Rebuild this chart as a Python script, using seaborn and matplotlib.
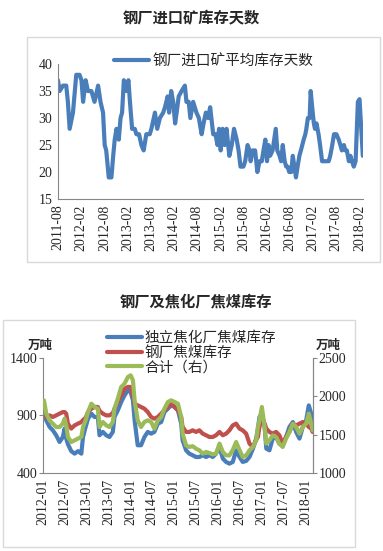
import pandas as pd
import seaborn as sns
import matplotlib.pyplot as plt
import matplotlib.dates as mdates
from matplotlib.patches import Rectangle

# 钢厂进口矿平均库存天数
ore_dates = [
    "2011-08-01", "2011-08-14", "2011-09-09", "2011-10-05", "2011-10-18", "2011-11-01",
    "2011-11-27", "2011-12-23", "2012-01-18", "2012-02-02", "2012-02-15", "2012-03-06",
    "2012-03-24", "2012-04-20", "2012-05-15", "2012-06-12", "2012-07-01", "2012-07-21",
    "2012-08-03", "2012-08-15", "2012-09-04", "2012-09-25", "2012-10-09", "2012-10-21",
    "2012-11-04", "2012-11-22", "2012-12-06", "2012-12-18", "2013-01-01", "2013-01-19",
    "2013-02-06", "2013-02-18", "2013-03-07", "2013-03-28", "2013-04-10", "2013-05-01",
    "2013-05-19", "2013-06-06", "2013-06-27", "2013-07-24", "2013-08-06", "2013-09-03",
    "2013-09-21", "2013-10-12", "2013-11-07", "2013-11-21", "2013-12-12", "2013-12-24",
    "2014-01-09", "2014-01-25", "2014-02-09", "2014-02-21", "2014-03-09", "2014-04-01",
    "2014-04-27", "2014-05-09", "2014-05-27", "2014-06-09", "2014-07-01", "2014-07-27",
    "2014-08-15", "2014-09-06", "2014-09-21", "2014-10-09", "2014-10-27", "2014-11-12",
    "2014-12-06", "2014-12-24", "2015-01-09", "2015-01-21", "2015-02-03", "2015-02-18",
    "2015-03-06", "2015-03-21", "2015-04-12", "2015-05-01", "2015-05-19", "2015-06-09",
    "2015-06-24", "2015-07-09", "2015-08-01", "2015-08-15", "2015-09-03", "2015-09-18",
    "2015-09-27", "2015-10-12", "2015-11-01", "2015-11-19", "2015-12-06", "2015-12-24",
    "2016-01-06", "2016-01-21", "2016-02-03", "2016-02-15", "2016-02-27", "2016-03-18",
    "2016-04-12", "2016-04-24", "2016-05-12", "2016-05-24", "2016-06-06", "2016-06-21",
    "2016-07-03", "2016-07-15", "2016-07-27", "2016-08-12", "2016-08-24", "2016-09-06",
    "2016-09-18", "2016-10-01", "2016-10-15", "2016-10-27", "2016-11-18", "2016-12-01",
    "2016-12-09", "2016-12-21", "2017-01-04", "2017-01-12", "2017-01-24", "2017-02-06",
    "2017-02-15", "2017-02-27", "2017-03-15", "2017-03-27", "2017-04-12", "2017-05-06",
    "2017-06-03", "2017-06-15", "2017-07-01", "2017-07-15", "2017-08-03", "2017-08-21",
    "2017-09-03", "2017-09-15", "2017-10-01", "2017-10-12", "2017-10-24", "2017-11-09",
    "2017-11-21", "2017-12-03", "2017-12-18", "2018-01-01", "2018-01-19", "2018-02-01",
    "2018-02-15", "2018-02-27",
]
ore_days = [
    37, 35, 36, 36, 33, 28, 31, 38, 38, 37, 33, 37,
    35, 35, 33, 36, 33, 31, 25, 24, 19, 19, 23, 26,
    28, 26, 30, 31, 37, 35, 37, 33, 28, 28, 27, 27,
    25, 24, 27, 27, 28, 31, 28, 30, 31, 32, 34, 31,
    35, 33, 29, 31, 34, 35, 36, 33, 33, 30, 33, 31,
    30, 27, 29, 31, 30, 32, 27, 27, 25, 28, 24, 28,
    25, 28, 23, 25, 28, 26, 24, 21, 21, 22, 25, 24,
    22, 24, 24, 20, 22, 22, 24, 26, 22, 25, 23, 24,
    28, 24, 23, 22, 25, 22, 21, 21, 20, 20, 23, 21,
    19, 21, 23, 24, 26, 27, 28, 30, 30, 35, 32, 29,
    28, 29, 27, 25, 22, 22, 22, 23, 25, 27, 27, 26,
    25, 24, 25, 24, 24, 22, 23, 22, 21, 22, 33, 33.5,
    28, 23,
]

# 焦煤库存 (万吨)
coal_dates = [
    "2012-01-09", "2012-01-28", "2012-02-25", "2012-03-23", "2012-04-20", "2012-05-18",
    "2012-06-15", "2012-06-29", "2012-07-13", "2012-07-27", "2012-08-24", "2012-09-21",
    "2012-10-19", "2012-11-16", "2012-11-30", "2012-12-22", "2013-01-11", "2013-02-08",
    "2013-03-06", "2013-04-03", "2013-04-17", "2013-05-15", "2013-06-12", "2013-07-09",
    "2013-08-06", "2013-08-20", "2013-09-17", "2013-10-15", "2013-11-12", "2013-12-10",
    "2014-01-02", "2014-01-21", "2014-02-04", "2014-03-02", "2014-03-30", "2014-04-27",
    "2014-05-25", "2014-06-22", "2014-07-19", "2014-08-17", "2014-09-14", "2014-10-11",
    "2014-11-09", "2014-12-06", "2015-01-04", "2015-02-01", "2015-02-28", "2015-03-12",
    "2015-04-10", "2015-05-07", "2015-06-04", "2015-07-02", "2015-07-30", "2015-08-27",
    "2015-09-24", "2015-10-22", "2015-11-19", "2015-12-16", "2016-01-14", "2016-02-11",
    "2016-03-09", "2016-04-06", "2016-05-04", "2016-06-01", "2016-06-29", "2016-07-26",
    "2016-08-24", "2016-09-21", "2016-10-19", "2016-11-16", "2016-11-30", "2016-12-13",
    "2017-01-02", "2017-01-25", "2017-02-08", "2017-03-06", "2017-04-03", "2017-05-01",
    "2017-05-28", "2017-06-25", "2017-07-23", "2017-08-20", "2017-09-18", "2017-10-15",
    "2017-11-12", "2017-12-10", "2018-01-07", "2018-01-29", "2018-02-18", "2018-03-02",
]
coking_plant = [
    916, 858, 800, 771, 728, 670, 713, 786, 699, 650, 590, 568,
    590, 568, 713, 800, 872, 916, 887, 887, 728, 757, 728, 713,
    757, 887, 945, 1017, 1075, 1119, 1104, 1032, 858, 641, 641, 713,
    757, 742, 757, 829, 843, 930, 959, 988, 974, 945, 829, 684,
    597, 568, 554, 539, 539, 554, 539, 554, 539, 568, 626, 525,
    496, 481, 496, 597, 540, 496, 505, 540, 610, 700, 786, 887,
    916, 800, 612, 597, 699, 713, 655, 641, 713, 800, 843, 757,
    699, 800, 858, 988, 916, 786,
]
steel_mill = [
    901, 887, 901, 887, 901, 916, 930, 930, 916, 829, 786, 814,
    829, 843, 860, 880, 930, 959, 974, 974, 940, 916, 901, 901,
    920, 959, 1017, 1075, 1133, 1148, 1148, 1075, 1003, 988, 974, 959,
    930, 887, 872, 887, 916, 945, 974, 1003, 974, 945, 887, 800,
    757, 757, 771, 757, 771, 742, 728, 713, 713, 728, 757, 728,
    742, 771, 814, 829, 786, 771, 742, 655, 626, 690, 713, 800,
    887, 830, 786, 757, 742, 757, 728, 655, 713, 757, 829, 814,
    829, 843, 829, 800, 786, 757,
]
total_right = [
    1948, 1774, 1687, 1643, 1600, 1600, 1643, 1709, 1622, 1470, 1404, 1426,
    1448, 1470, 1600, 1687, 1796, 1904, 1861, 1839, 1600, 1665, 1622, 1600,
    1665, 1839, 1970, 2122, 2165, 2252, 2274, 2209, 1948, 1687, 1600, 1665,
    1687, 1665, 1578, 1687, 1730, 1839, 1926, 1948, 1926, 1904, 1730, 1513,
    1361, 1339, 1350, 1317, 1296, 1252, 1274, 1261, 1243, 1252, 1383, 1274,
    1230, 1230, 1300, 1404, 1300, 1209, 1230, 1296, 1339, 1426, 1600, 1687,
    1861, 1600, 1383, 1426, 1491, 1470, 1383, 1339, 1448, 1535, 1643, 1600,
    1513, 1600, 1643, 1774, 1643, 1557,
]

ore = pd.DataFrame({"date": pd.to_datetime(ore_dates), "days": ore_days})
coal = pd.DataFrame({
    "date": pd.to_datetime(coal_dates),
    "plant": coking_plant,
    "mill": steel_mill,
    "total": total_right,
})

blue = "#4A7EBB"
red = "#C0504D"
green = "#9BBB59"
grey = "#868686"
cjk = ["Noto Sans CJK SC", "DejaVu Sans"]
serif = ["Liberation Serif", "DejaVu Serif"]

sns.set_style("white")
plt.rcParams["font.family"] = cjk

fig = plt.figure(figsize=(3.83, 5.51), dpi=100)

# outer frames around each chart
for x0, y0, w, h in [(0.0705, 0.5245, 0.9215, 0.4083), (0.0078, 0.0073, 0.9192, 0.4119)]:
    fig.patches.append(Rectangle((x0, y0), w, h, transform=fig.transFigure,
                                 fill=False, edgecolor="#D9D9D9", linewidth=1))

def style_axis(ax, rightside=False):
    for s in ["top", "right", "left", "bottom"]:
        ax.spines[s].set_visible(False)
    for s in (["left", "bottom", "right"] if rightside else ["left", "bottom"]):
        ax.spines[s].set_visible(True)
        ax.spines[s].set_color(grey)
        ax.spines[s].set_linewidth(0.8)
    ax.tick_params(axis="both", direction="out", length=3, width=0.8, color=grey,
                   labelsize=10, pad=1)
    ax.set_facecolor("none")
    ax.grid(False)
    for lab in ax.get_xticklabels() + ax.get_yticklabels():
        lab.set_family(serif)

# ---- top chart ----
fig.text(0.5, 0.967, "钢厂进口矿库存天数", ha="center", va="center",
         fontsize=11, fontweight="bold", family=cjk)
ax1 = fig.add_axes([0.1514, 0.6388, 0.7966, 0.2450])
sns.lineplot(data=ore, x="date", y="days", ax=ax1, color=blue, linewidth=3,
             label="钢厂进口矿平均库存天数")
ax1.set_xlim(pd.Timestamp("2011-08-01"), pd.Timestamp("2018-03-01"))
ax1.set_ylim(15, 40)
ax1.set_yticks([15, 20, 25, 30, 35, 40])
ax1.xaxis.set_major_locator(mdates.MonthLocator(bymonth=[2, 8]))
ax1.xaxis.set_major_formatter(mdates.DateFormatter("%Y-%m"))
ax1.set_xlabel("")
ax1.set_ylabel("")
ax1.tick_params(axis="x", labelrotation=90)
style_axis(ax1)
ax1.legend(loc="center left", bbox_to_anchor=(0.165, 1.02), frameon=False,
           fontsize=10.5, handlelength=2.4, handletextpad=0.2, borderaxespad=0)

# ---- bottom chart ----
fig.text(0.512, 0.452, "钢厂及焦化厂焦煤库存", ha="center", va="center",
         fontsize=11, fontweight="bold", family=cjk)
ax2 = fig.add_axes([0.1123, 0.1416, 0.7049, 0.2087])
ax3 = ax2.twinx()
sns.lineplot(data=coal, x="date", y="plant", ax=ax2, color=blue, linewidth=3,
             label="独立焦化厂焦煤库存", legend=False)
sns.lineplot(data=coal, x="date", y="mill", ax=ax2, color=red, linewidth=3,
             label="钢厂焦煤库存", legend=False)
sns.lineplot(data=coal, x="date", y="total", ax=ax3, color=green, linewidth=3,
             label="合计（右）", legend=False)
ax2.set_xlim(pd.Timestamp("2012-01-01"), pd.Timestamp("2018-03-05"))
ax2.set_ylim(400, 1400)
ax2.set_yticks([400, 900, 1400])
ax3.set_ylim(1000, 2500)
ax3.set_yticks([1000, 1500, 2000, 2500])
ax2.xaxis.set_major_locator(mdates.MonthLocator(bymonth=[1, 7]))
ax2.xaxis.set_major_formatter(mdates.DateFormatter("%Y-%m"))
for a in (ax2, ax3):
    a.set_xlabel("")
    a.set_ylabel("")
ax2.tick_params(axis="x", labelrotation=90)
style_axis(ax2, rightside=True)
style_axis(ax3, rightside=True)
ax3.spines["left"].set_visible(False)
ax3.spines["bottom"].set_visible(False)

h2, l2 = ax2.get_legend_handles_labels()
h3, l3 = ax3.get_legend_handles_labels()
ax3.legend(h2 + h3, l2 + l3, loc="upper left", bbox_to_anchor=(0.215, 1.285),
           frameon=False, fontsize=10.5, handlelength=2.4, handletextpad=0.2,
           labelspacing=0.05, borderaxespad=0)

fig.text(0.104, 0.374, "万吨", ha="center", va="center", fontsize=9,
         fontweight="bold", family=cjk)
fig.text(0.857, 0.374, "万吨", ha="center", va="center", fontsize=9,
         fontweight="bold", family=cjk)

fig.savefig("out.png", dpi=100)
